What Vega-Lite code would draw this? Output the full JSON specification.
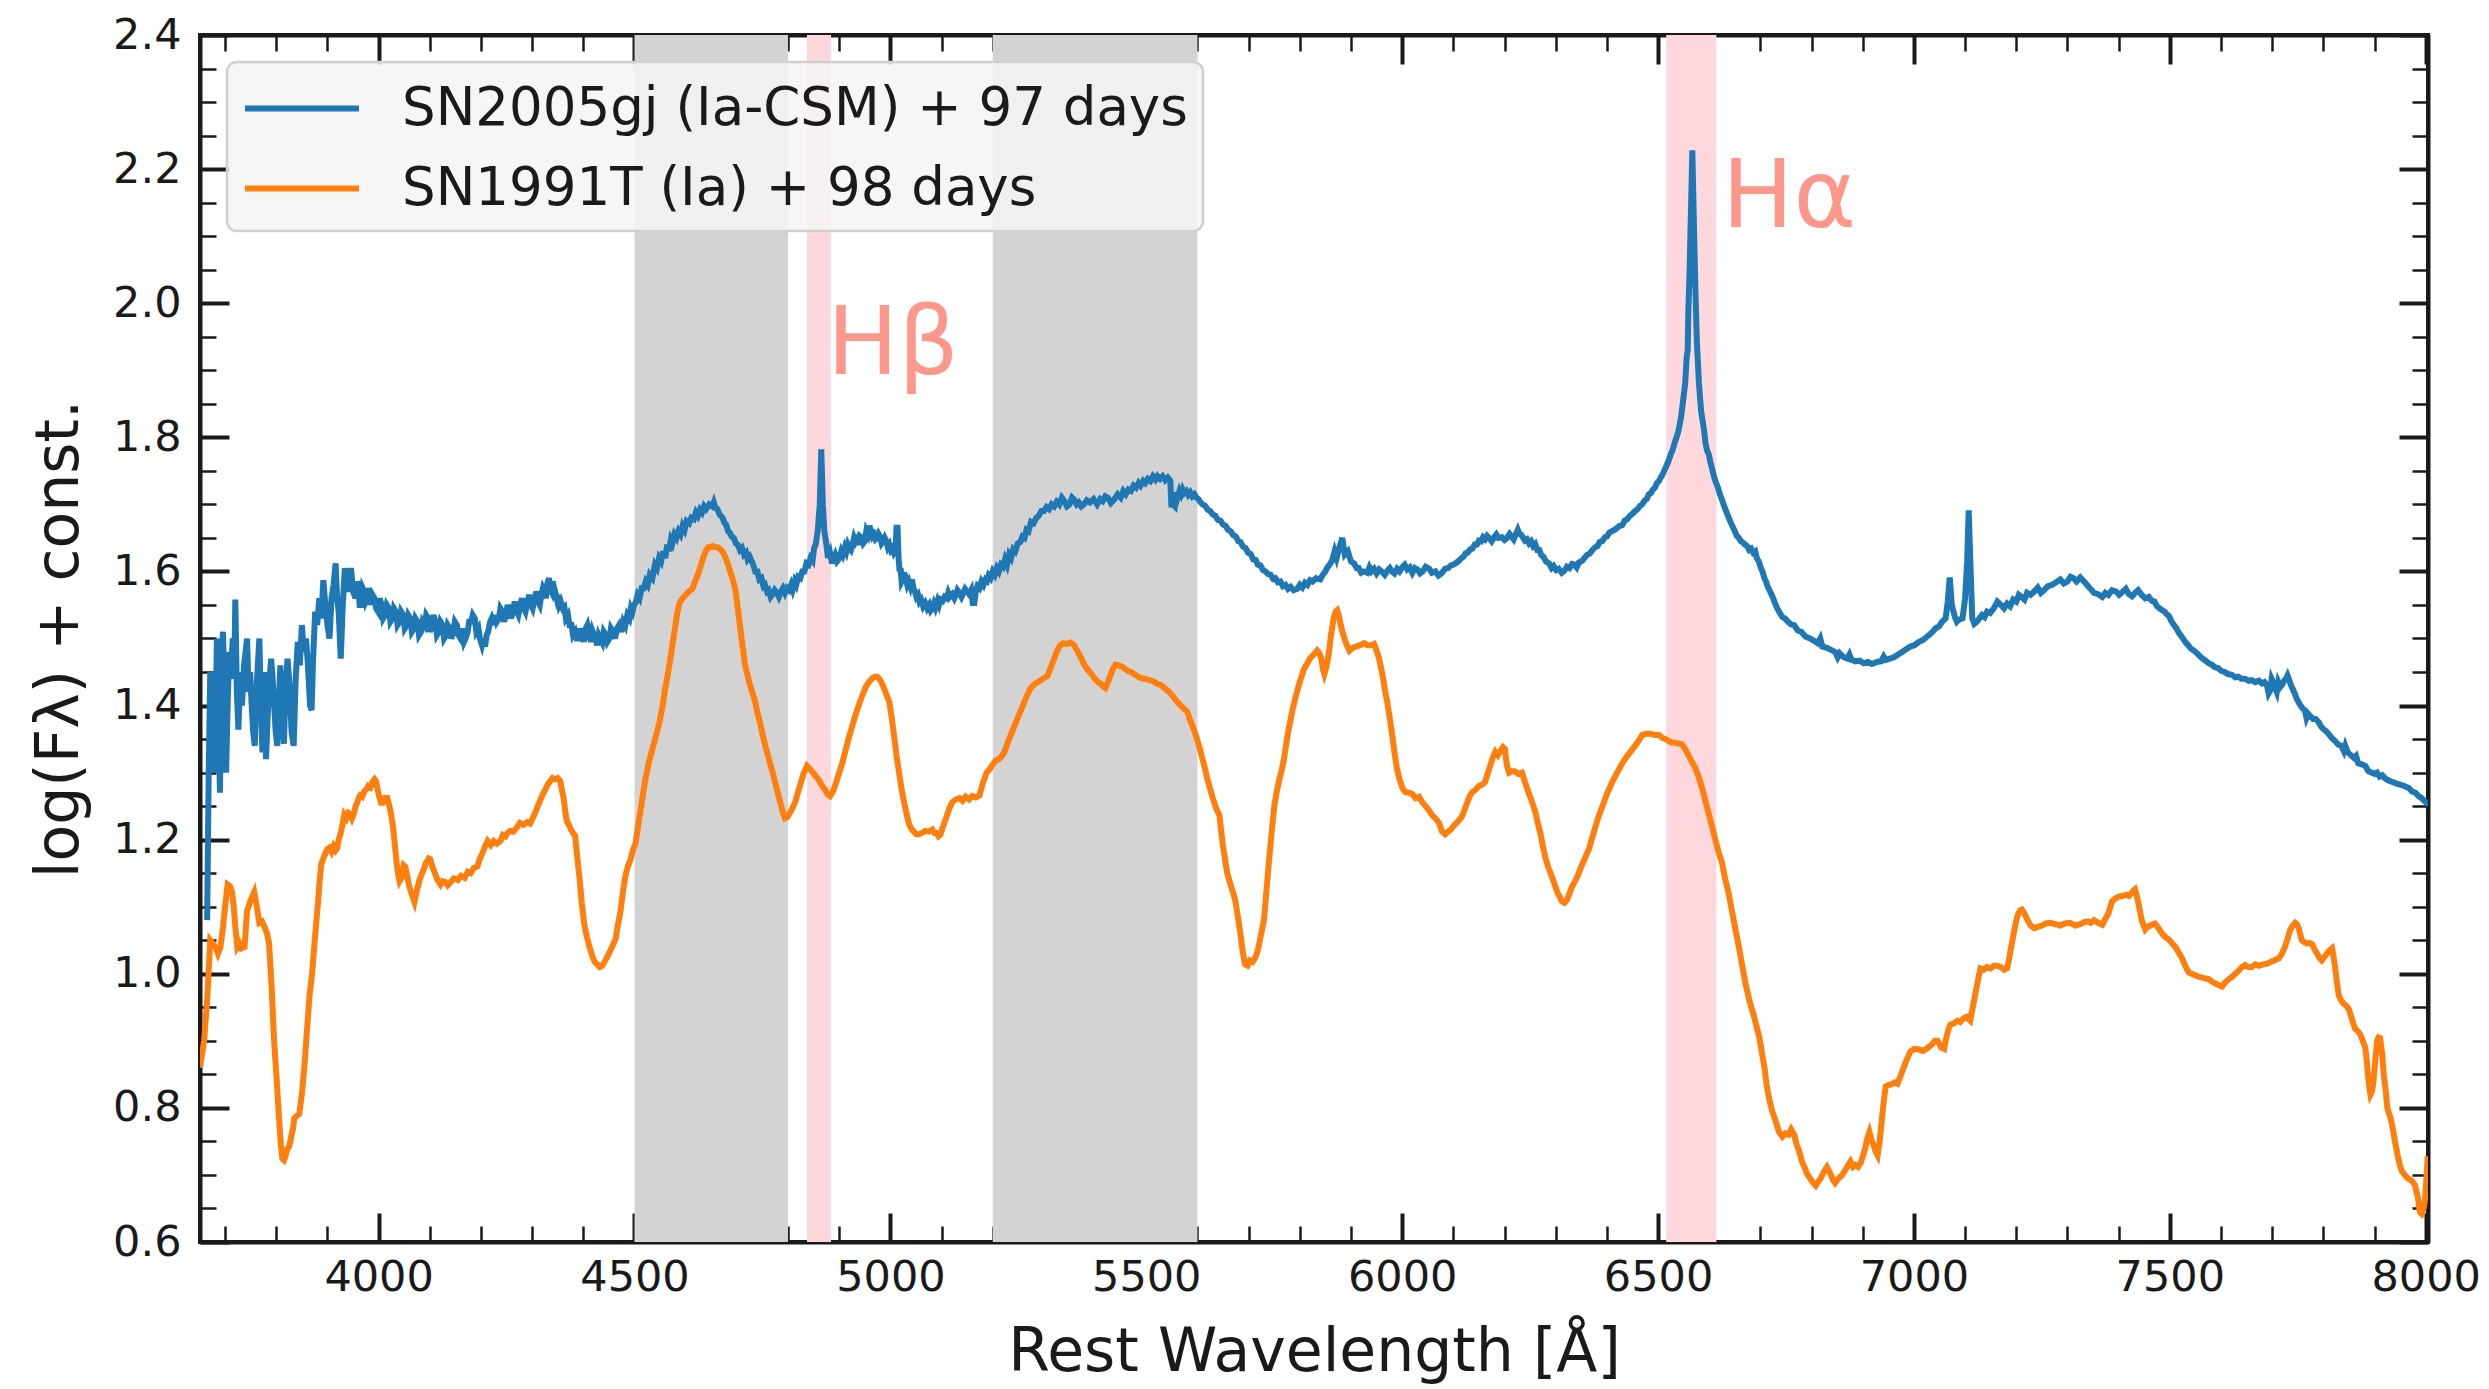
{
  "$schema": "https://vega.github.io/schema/vega-lite/v6.json",
  "width": 2228,
  "height": 1207,
  "autosize": {"type": "none"},
  "padding": {"left": 200, "top": 35, "right": 61, "bottom": 147},
  "background": "white",
  "config": {
    "view": {"stroke": "#1a1a1a", "strokeWidth": 4},
    "font": "DejaVu Sans",
    "axis": {
      "domainColor": "#1a1a1a", "domainWidth": 4, "tickColor": "#1a1a1a", "grid": false,
      "labelFont": "DejaVu Sans", "labelFontSize": 43, "labelColor": "#1a1a1a",
      "titleFont": "DejaVu Sans", "titleFontSize": 60, "titleFontWeight": "normal", "titleColor": "#1a1a1a",
      "labelOverlap": false, "labelFlush": false
    },
    "legend": {
      "orient": "none", "legendX": 27, "legendY": 27, "title": null,
      "symbolType": "M-1,0H3", "symbolSize": 3249, "symbolStrokeWidth": 6,
      "labelFont": "DejaVu Sans", "labelFontSize": 53, "labelColor": "#1a1a1a", "labelOffset": 97, "labelLimit": 2000,
      "padding": 15, "rowPadding": 21, "fillColor": "rgba(245,245,245,0.85)", "strokeColor": "#d0d0d0", "strokeWidth": 2.5, "cornerRadius": 10
    }
  },
  "datasets": {
    "bands": [
      {"kind": "range", "x0": 4500, "x1": 4800},
      {"kind": "range", "x0": 5200, "x1": 5600},
      {"kind": "line", "x0": 4837, "x1": 4884},
      {"kind": "line", "x0": 6516, "x1": 6614}
    ],
    "labels": [
      {"t": "Hα", "w": 6625, "f": 2.114},
      {"t": "Hβ", "w": 4876, "f": 1.895}
    ],
    "sn05gj": [
{"w":3665,"f":1.08},{"w":3668,"f":1.30},{"w":3671,"f":1.45},{"w":3674,"f":1.33},{"w":3677,"f":1.42},{"w":3680,"f":1.30},{"w":3684,"f":1.50},{"w":3687,"f":1.38},{"w":3690,"f":1.27},{"w":3693,"f":1.47},{"w":3696,"f":1.51},{"w":3699,"f":1.40},{"w":3702,"f":1.30},{"w":3705,"f":1.40},{"w":3708,"f":1.48},{"w":3711,"f":1.44},{"w":3715,"f":1.50},{"w":3718,"f":1.45},{"w":3720,"f":1.558},{"w":3723,"f":1.42},{"w":3726,"f":1.364},{"w":3730,"f":1.45},{"w":3733,"f":1.40},{"w":3737,"f":1.46},{"w":3740,"f":1.48},{"w":3743,"f":1.50},{"w":3746,"f":1.42},{"w":3749,"f":1.45},{"w":3752,"f":1.40},{"w":3755,"f":1.36},{"w":3758,"f":1.34},{"w":3761,"f":1.42},{"w":3764,"f":1.46},{"w":3767,"f":1.50},{"w":3770,"f":1.40},{"w":3773,"f":1.33},{"w":3777,"f":1.45},{"w":3780,"f":1.32},{"w":3783,"f":1.38},{"w":3787,"f":1.44},{"w":3790,"f":1.47},{"w":3793,"f":1.44},{"w":3796,"f":1.40},{"w":3799,"f":1.36},{"w":3802,"f":1.34},{"w":3805,"f":1.40},{"w":3808,"f":1.46},{"w":3812,"f":1.38},{"w":3815,"f":1.343},{"w":3818,"f":1.42},{"w":3822,"f":1.47},{"w":3826,"f":1.43},{"w":3830,"f":1.36},{"w":3834,"f":1.34},{"w":3838,"f":1.44},{"w":3842,"f":1.495},{"w":3846,"f":1.46},{"w":3850,"f":1.52},{"w":3854,"f":1.48},{"w":3858,"f":1.50},{"w":3862,"f":1.46},{"w":3866,"f":1.40},{"w":3869,"f":1.393},{"w":3872,"f":1.47},{"w":3876,"f":1.54},{"w":3880,"f":1.52},{"w":3884,"f":1.56},{"w":3888,"f":1.53},{"w":3892,"f":1.587},{"w":3896,"f":1.55},{"w":3900,"f":1.52},{"w":3904,"f":1.50},{"w":3908,"f":1.56},{"w":3912,"f":1.58},{"w":3916,"f":1.612},{"w":3919,"f":1.56},{"w":3922,"f":1.54},{"w":3926,"f":1.47},{"w":3930,"f":1.55},{"w":3934,"f":1.605},{"w":3938,"f":1.58},{"w":3942,"f":1.57},{"w":3946,"f":1.605},{"w":3950,"f":1.57},
{"w":3955,"f":1.56},{"w":3958,"f":1.585},{"w":3960,"f":1.58},{"w":3963,"f":1.55},{"w":3966,"f":1.55},{"w":3969,"f":1.575},{"w":3972,"f":1.57},{"w":3975,"f":1.555},{"w":3978,"f":1.56},{"w":3982,"f":1.575},{"w":3985,"f":1.55},{"w":3988,"f":1.565},{"w":3992,"f":1.56},{"w":3995,"f":1.545},{"w":3999,"f":1.54},{"w":4002,"f":1.56},{"w":4006,"f":1.55},{"w":4009,"f":1.53},{"w":4013,"f":1.535},{"w":4016,"f":1.55},{"w":4020,"f":1.545},{"w":4023,"f":1.525},{"w":4027,"f":1.53},{"w":4030,"f":1.545},{"w":4034,"f":1.54},{"w":4037,"f":1.52},{"w":4041,"f":1.525},{"w":4044,"f":1.54},{"w":4048,"f":1.535},{"w":4051,"f":1.515},{"w":4055,"f":1.52},{"w":4058,"f":1.535},{"w":4062,"f":1.53},{"w":4065,"f":1.51},{"w":4069,"f":1.515},{"w":4072,"f":1.53},{"w":4076,"f":1.525},{"w":4079,"f":1.505},{"w":4083,"f":1.51},{"w":4086,"f":1.525},{"w":4090,"f":1.52},{"w":4093,"f":1.535},{"w":4097,"f":1.53},{"w":4100,"f":1.51},{"w":4104,"f":1.52},{"w":4107,"f":1.535},{"w":4111,"f":1.525},{"w":4114,"f":1.505},{"w":4118,"f":1.51},{"w":4121,"f":1.525},{"w":4125,"f":1.52},{"w":4128,"f":1.50},{"w":4132,"f":1.505},{"w":4135,"f":1.52},{"w":4139,"f":1.515},{"w":4142,"f":1.50},{"w":4146,"f":1.51},{"w":4149,"f":1.525},{"w":4153,"f":1.52},{"w":4156,"f":1.505},{"w":4160,"f":1.50},{"w":4163,"f":1.515},{"w":4167,"f":1.495},{"w":4170,"f":1.50},{"w":4174,"f":1.51},{"w":4177,"f":1.525},{"w":4181,"f":1.525},{"w":4184,"f":1.535},{"w":4188,"f":1.53},{"w":4191,"f":1.51},{"w":4195,"f":1.515},{"w":4198,"f":1.50},{"w":4202,"f":1.49},{"w":4205,"f":1.50},{"w":4208,"f":1.488},{"w":4211,"f":1.505},{"w":4214,"f":1.51},{"w":4218,"f":1.525},{"w":4221,"f":1.53},{"w":4225,"f":1.52},{"w":4228,"f":1.535},{"w":4231,"f":1.525},{"w":4235,"f":1.53},{"w":4238,"f":1.545},{"w":4242,"f":1.54},{"w":4245,"f":1.525},{"w":4249,"f":1.535},{"w":4252,"f":1.55},{"w":4256,"f":1.54},{"w":4259,"f":1.53},{"w":4263,"f":1.545},{"w":4266,"f":1.555},{"w":4270,"f":1.54},{"w":4273,"f":1.535},{"w":4277,"f":1.55},{"w":4280,"f":1.56},{"w":4284,"f":1.545},{"w":4287,"f":1.54},{"w":4291,"f":1.555},{"w":4294,"f":1.565},{"w":4298,"f":1.55},{"w":4301,"f":1.545},{"w":4305,"f":1.56},{"w":4308,"f":1.57},{"w":4312,"f":1.555},{"w":4315,"f":1.55},{"w":4318,"f":1.565},{"w":4321,"f":1.575},{"w":4324,"f":1.57},{"w":4327,"f":1.56},{"w":4330,"f":1.583},{"w":4333,"f":1.59},{"w":4335,"f":1.575},{"w":4338,"f":1.57},{"w":4340,"f":1.585},{"w":4343,"f":1.575},{"w":4345,"f":1.57},{"w":4348,"f":1.56},{"w":4350,"f":1.565},{"w":4353,"f":1.55},{"w":4356,"f":1.555},{"w":4360,"f":1.545},{"w":4363,"f":1.547},{"w":4366,"f":1.53},{"w":4370,"f":1.535},{"w":4373,"f":1.52},{"w":4377,"f":1.52},{"w":4380,"f":1.505},{"w":4384,"f":1.51},{"w":4387,"f":1.50},{"w":4391,"f":1.50},{"w":4394,"f":1.515},{"w":4398,"f":1.505},{"w":4401,"f":1.495},{"w":4405,"f":1.515},{"w":4408,"f":1.52},{"w":4412,"f":1.505},{"w":4415,"f":1.495},{"w":4418,"f":1.511},{"w":4421,"f":1.505},{"w":4424,"f":1.50},{"w":4427,"f":1.49},{"w":4430,"f":1.505},{"w":4433,"f":1.50},{"w":4437,"f":1.494},{"w":4440,"f":1.51},{"w":4444,"f":1.505},{"w":4447,"f":1.495},{"w":4451,"f":1.50},{"w":4454,"f":1.515},{"w":4458,"f":1.51},{"w":4462,"f":1.50},{"w":4466,"f":1.515},{"w":4470,"f":1.52},{"w":4474,"f":1.51},{"w":4478,"f":1.525},{"w":4482,"f":1.519},{"w":4486,"f":1.535},{"w":4490,"f":1.53},{"w":4493,"f":1.545},{"w":4496,"f":1.54},{"w":4499,"f":1.55},
{"w":4502,"f":1.553},{"w":4506,"f":1.565},{"w":4510,"f":1.56},{"w":4514,"f":1.575},{"w":4518,"f":1.575},{"w":4522,"f":1.585},{"w":4526,"f":1.58},{"w":4530,"f":1.595},{"w":4535,"f":1.59},{"w":4540,"f":1.61},{"w":4544,"f":1.605},{"w":4548,"f":1.62},{"w":4552,"f":1.615},{"w":4556,"f":1.63},{"w":4560,"f":1.62},{"w":4564,"f":1.64},{"w":4567,"f":1.63},{"w":4571,"f":1.647},{"w":4574,"f":1.642},{"w":4578,"f":1.655},{"w":4582,"f":1.65},{"w":4586,"f":1.66},{"w":4590,"f":1.655},{"w":4594,"f":1.668},{"w":4598,"f":1.662},{"w":4602,"f":1.675},{"w":4607,"f":1.672},{"w":4611,"f":1.68},{"w":4616,"f":1.678},{"w":4620,"f":1.688},{"w":4624,"f":1.683},{"w":4628,"f":1.692},{"w":4632,"f":1.688},{"w":4636,"f":1.697},{"w":4640,"f":1.693},{"w":4646,"f":1.70},{"w":4652,"f":1.697},{"w":4655,"f":1.703},{"w":4658,"f":1.695},{"w":4662,"f":1.693},{"w":4666,"f":1.685},{"w":4672,"f":1.68},{"w":4676,"f":1.672},{"w":4679,"f":1.67},{"w":4683,"f":1.66},{"w":4686,"f":1.658},{"w":4690,"f":1.652},{"w":4694,"f":1.65},{"w":4698,"f":1.642},{"w":4702,"f":1.64},{"w":4706,"f":1.632},{"w":4710,"f":1.635},{"w":4714,"f":1.625},{"w":4718,"f":1.628},{"w":4721,"f":1.618},{"w":4725,"f":1.622},{"w":4732,"f":1.61},{"w":4736,"f":1.60},{"w":4740,"f":1.60},{"w":4744,"f":1.588},{"w":4748,"f":1.59},{"w":4752,"f":1.578},{"w":4755,"f":1.58},{"w":4759,"f":1.57},{"w":4762,"f":1.572},{"w":4766,"f":1.562},{"w":4770,"f":1.566},{"w":4774,"f":1.572},{"w":4778,"f":1.568},{"w":4782,"f":1.562},{"w":4786,"f":1.57},{"w":4790,"f":1.575},{"w":4794,"f":1.568},{"w":4798,"f":1.575},{"w":4802,"f":1.572},{"w":4806,"f":1.58},{"w":4809,"f":1.573},{"w":4813,"f":1.585},{"w":4816,"f":1.58},{"w":4820,"f":1.592},{"w":4824,"f":1.59},{"w":4828,"f":1.60},{"w":4832,"f":1.60},{"w":4836,"f":1.612},{"w":4840,"f":1.61},{"w":4844,"f":1.62},{"w":4848,"f":1.616},{"w":4851,"f":1.635},{"w":4854,"f":1.64},{"w":4858,"f":1.66},{"w":4862,"f":1.70},{"w":4865,"f":1.782},{"w":4868,"f":1.70},{"w":4871,"f":1.66},{"w":4875,"f":1.64},{"w":4878,"f":1.62},{"w":4882,"f":1.628},{"w":4886,"f":1.612},{"w":4889,"f":1.62},{"w":4892,"f":1.625},{"w":4896,"f":1.615},{"w":4900,"f":1.619},{"w":4904,"f":1.63},{"w":4907,"f":1.625},{"w":4911,"f":1.636},{"w":4914,"f":1.63},{"w":4917,"f":1.64},{"w":4920,"f":1.635},{"w":4923,"f":1.632},{"w":4926,"f":1.64},{"w":4929,"f":1.65},{"w":4932,"f":1.644},{"w":4935,"f":1.648},{"w":4938,"f":1.64},{"w":4941,"f":1.652},{"w":4944,"f":1.65},{"w":4947,"f":1.642},{"w":4950,"f":1.645},{"w":4953,"f":1.66},{"w":4956,"f":1.655},{"w":4959,"f":1.668},{"w":4962,"f":1.661},{"w":4965,"f":1.652},{"w":4968,"f":1.655},{"w":4971,"f":1.648},{"w":4974,"f":1.65},{"w":4977,"f":1.656},{"w":4980,"f":1.652},{"w":4983,"f":1.642},{"w":4986,"f":1.645},{"w":4989,"f":1.65},{"w":4992,"f":1.645},{"w":4995,"f":1.636},{"w":4998,"f":1.64},{"w":5001,"f":1.632},{"w":5004,"f":1.635},{"w":5007,"f":1.628},{"w":5010,"f":1.632},{"w":5012,"f":1.665},{"w":5014,"f":1.665},{"w":5016,"f":1.62},{"w":5018,"f":1.60},{"w":5020,"f":1.605},{"w":5022,"f":1.585},{"w":5024,"f":1.588},{"w":5027,"f":1.598},{"w":5030,"f":1.59},{"w":5033,"f":1.58},{"w":5036,"f":1.585},{"w":5039,"f":1.578},{"w":5042,"f":1.588},{"w":5045,"f":1.575},{"w":5048,"f":1.57},{"w":5051,"f":1.562},{"w":5054,"f":1.565},{"w":5057,"f":1.555},{"w":5060,"f":1.558},{"w":5064,"f":1.548},{"w":5068,"f":1.553},{"w":5072,"f":1.545},{"w":5076,"f":1.55},{"w":5079,"f":1.542},{"w":5082,"f":1.545},{"w":5085,"f":1.552},{"w":5088,"f":1.546},{"w":5092,"f":1.556},{"w":5095,"f":1.55},{"w":5098,"f":1.558},{"w":5102,"f":1.556},{"w":5106,"f":1.562},{"w":5110,"f":1.56},{"w":5113,"f":1.568},{"w":5116,"f":1.562},{"w":5121,"f":1.566},{"w":5125,"f":1.56},{"w":5128,"f":1.565},{"w":5131,"f":1.572},{"w":5135,"f":1.568},{"w":5139,"f":1.562},{"w":5142,"f":1.567},{"w":5146,"f":1.574},{"w":5150,"f":1.57},{"w":5154,"f":1.566},{"w":5158,"f":1.572},{"w":5161,"f":1.553},{"w":5164,"f":1.553},{"w":5167,"f":1.57},{"w":5170,"f":1.578},{"w":5174,"f":1.575},{"w":5178,"f":1.585},{"w":5182,"f":1.58},{"w":5186,"f":1.588},{"w":5189,"f":1.586},{"w":5192,"f":1.594},{"w":5196,"f":1.59},{"w":5200,"f":1.6},{"w":5204,"f":1.595},{"w":5208,"f":1.605},{"w":5212,"f":1.60},{"w":5216,"f":1.61},{"w":5220,"f":1.607},{"w":5224,"f":1.618},{"w":5228,"f":1.61},{"w":5232,"f":1.625},{"w":5236,"f":1.62},{"w":5240,"f":1.633},{"w":5244,"f":1.63},{"w":5249,"f":1.642},{"w":5254,"f":1.644},{"w":5258,"f":1.652},{"w":5262,"f":1.65},{"w":5266,"f":1.662},{"w":5270,"f":1.66},{"w":5275,"f":1.674},{"w":5280,"f":1.672},{"w":5285,"f":1.68},{"w":5290,"f":1.683},{"w":5295,"f":1.69},{"w":5300,"f":1.69},{"w":5305,"f":1.696},{"w":5310,"f":1.693},{"w":5315,"f":1.70},{"w":5320,"f":1.697},{"w":5325,"f":1.704},{"w":5330,"f":1.70},{"w":5335,"f":1.71},{"w":5340,"f":1.705},{"w":5345,"f":1.697},{"w":5350,"f":1.70},{"w":5355,"f":1.71},{"w":5359,"f":1.707},{"w":5364,"f":1.70},{"w":5368,"f":1.703},{"w":5373,"f":1.697},{"w":5378,"f":1.70},{"w":5384,"f":1.706},{"w":5390,"f":1.703},{"w":5397,"f":1.708},{"w":5404,"f":1.70},{"w":5410,"f":1.708},{"w":5415,"f":1.705},{"w":5420,"f":1.712},{"w":5425,"f":1.71},{"w":5431,"f":1.702},{"w":5437,"f":1.707},{"w":5444,"f":1.715},{"w":5450,"f":1.71},{"w":5455,"f":1.72},{"w":5460,"f":1.715},{"w":5465,"f":1.722},{"w":5470,"f":1.72},{"w":5475,"f":1.728},{"w":5480,"f":1.725},{"w":5485,"f":1.732},{"w":5489,"f":1.728},{"w":5494,"f":1.735},{"w":5498,"f":1.732},{"w":5503,"f":1.738},{"w":5508,"f":1.735},{"w":5513,"f":1.742},{"w":5518,"f":1.737},{"w":5522,"f":1.742},{"w":5527,"f":1.738},{"w":5532,"f":1.742},{"w":5537,"f":1.736},{"w":5542,"f":1.74},{"w":5547,"f":1.735},{"w":5549,"f":1.70},{"w":5552,"f":1.70},{"w":5556,"f":1.697},{"w":5559,"f":1.718},{"w":5562,"f":1.712},{"w":5565,"f":1.72},{"w":5568,"f":1.715},{"w":5571,"f":1.722},{"w":5574,"f":1.717},{"w":5578,"f":1.72},{"w":5582,"f":1.714},{"w":5586,"f":1.718},{"w":5590,"f":1.712},{"w":5594,"f":1.715},{"w":5598,"f":1.71},{"w":5602,"f":1.708},{"w":5605,"f":1.704},{"w":5610,"f":1.70},{"w":5615,"f":1.698},{"w":5620,"f":1.692},{"w":5625,"f":1.69},{"w":5630,"f":1.685},{"w":5635,"f":1.683},{"w":5640,"f":1.677},{"w":5645,"f":1.676},{"w":5650,"f":1.67},{"w":5655,"f":1.668},{"w":5660,"f":1.662},{"w":5665,"f":1.66},{"w":5670,"f":1.654},{"w":5675,"f":1.652},{"w":5680,"f":1.645},{"w":5684,"f":1.644},{"w":5689,"f":1.637},{"w":5694,"f":1.635},{"w":5699,"f":1.628},{"w":5704,"f":1.626},{"w":5709,"f":1.618},{"w":5714,"f":1.617},{"w":5718,"f":1.61},{"w":5723,"f":1.609},{"w":5728,"f":1.602},{"w":5733,"f":1.60},{"w":5738,"f":1.596},{"w":5743,"f":1.595},{"w":5748,"f":1.589},{"w":5752,"f":1.59},{"w":5757,"f":1.584},{"w":5762,"f":1.585},{"w":5767,"f":1.578},{"w":5772,"f":1.58},{"w":5777,"f":1.574},{"w":5782,"f":1.577},{"w":5788,"f":1.572},{"w":5795,"f":1.574},{"w":5800,"f":1.58},{"w":5805,"f":1.576},{"w":5810,"f":1.583},{"w":5815,"f":1.58},{"w":5820,"f":1.587},{"w":5825,"f":1.585},{"w":5832,"f":1.59},{"w":5840,"f":1.588},{"w":5845,"f":1.595},{"w":5850,"f":1.60},{"w":5854,"f":1.606},{"w":5858,"f":1.61},{"w":5863,"f":1.616},{"w":5868,"f":1.63},{"w":5872,"f":1.62},{"w":5877,"f":1.635},{"w":5883,"f":1.65},{"w":5888,"f":1.625},{"w":5894,"f":1.63},{"w":5900,"f":1.615},{"w":5906,"f":1.612},{"w":5911,"f":1.605},{"w":5915,"f":1.605},{"w":5920,"f":1.598},{"w":5925,"f":1.60},{"w":5932,"f":1.598},{"w":5936,"f":1.606},{"w":5940,"f":1.60},{"w":5945,"f":1.604},{"w":5950,"f":1.597},{"w":5955,"f":1.603},{"w":5960,"f":1.60},{"w":5966,"f":1.595},{"w":5971,"f":1.601},{"w":5976,"f":1.605},{"w":5980,"f":1.60},{"w":5985,"f":1.597},{"w":5990,"f":1.604},{"w":5995,"f":1.60},{"w":6000,"f":1.606},{"w":6005,"f":1.61},{"w":6010,"f":1.603},{"w":6015,"f":1.606},{"w":6020,"f":1.598},{"w":6025,"f":1.605},{"w":6030,"f":1.603},{"w":6035,"f":1.597},{"w":6040,"f":1.60},{"w":6046,"f":1.607},{"w":6053,"f":1.604},{"w":6058,"f":1.598},{"w":6065,"f":1.60},{"w":6071,"f":1.594},{"w":6078,"f":1.598},{"w":6084,"f":1.604},{"w":6090,"f":1.605},{"w":6095,"f":1.609},{"w":6100,"f":1.61},{"w":6106,"f":1.613},{"w":6111,"f":1.616},{"w":6116,"f":1.62},{"w":6120,"f":1.622},{"w":6124,"f":1.627},{"w":6128,"f":1.628},{"w":6133,"f":1.633},{"w":6137,"f":1.634},{"w":6142,"f":1.64},{"w":6146,"f":1.64},{"w":6150,"f":1.646},{"w":6154,"f":1.645},{"w":6158,"f":1.651},{"w":6162,"f":1.648},{"w":6166,"f":1.653},{"w":6170,"f":1.65},{"w":6175,"f":1.645},{"w":6180,"f":1.651},{"w":6184,"f":1.655},{"w":6188,"f":1.65},{"w":6195,"f":1.651},{"w":6200,"f":1.647},{"w":6205,"f":1.65},{"w":6210,"f":1.656},{"w":6214,"f":1.652},{"w":6218,"f":1.648},{"w":6222,"f":1.655},{"w":6226,"f":1.662},{"w":6228,"f":1.658},{"w":6232,"f":1.655},{"w":6235,"f":1.652},{"w":6240,"f":1.646},{"w":6244,"f":1.648},{"w":6248,"f":1.642},{"w":6252,"f":1.645},{"w":6256,"f":1.638},{"w":6260,"f":1.641},{"w":6264,"f":1.632},{"w":6268,"f":1.632},{"w":6272,"f":1.624},{"w":6276,"f":1.622},{"w":6281,"f":1.615},{"w":6287,"f":1.612},{"w":6292,"f":1.605},{"w":6296,"f":1.608},{"w":6301,"f":1.602},{"w":6306,"f":1.604},{"w":6312,"f":1.598},{"w":6317,"f":1.601},{"w":6322,"f":1.607},{"w":6327,"f":1.605},{"w":6332,"f":1.611},{"w":6337,"f":1.61},{"w":6341,"f":1.606},{"w":6345,"f":1.613},{"w":6352,"f":1.616},{"w":6357,"f":1.621},{"w":6362,"f":1.625},{"w":6367,"f":1.627},{"w":6372,"f":1.632},{"w":6377,"f":1.636},{"w":6382,"f":1.638},{"w":6386,"f":1.644},{"w":6391,"f":1.645},{"w":6396,"f":1.651},{"w":6400,"f":1.652},{"w":6405,"f":1.658},{"w":6410,"f":1.66},{"w":6415,"f":1.662},{"w":6420,"f":1.665},{"w":6425,"f":1.668},{"w":6430,"f":1.669},{"w":6435,"f":1.676},{"w":6440,"f":1.678},{"w":6445,"f":1.683},{"w":6450,"f":1.686},{"w":6455,"f":1.69},{"w":6460,"f":1.693},{"w":6465,"f":1.698},{"w":6469,"f":1.70},{"w":6474,"f":1.706},{"w":6478,"f":1.708},{"w":6482,"f":1.715},{"w":6486,"f":1.717},{"w":6490,"f":1.722},{"w":6494,"f":1.725},{"w":6498,"f":1.732},{"w":6502,"f":1.735},{"w":6505,"f":1.74},{"w":6508,"f":1.743},{"w":6512,"f":1.75},{"w":6515,"f":1.755},{"w":6519,"f":1.762},{"w":6522,"f":1.768},{"w":6525,"f":1.775},{"w":6528,"f":1.78},{"w":6533,"f":1.793},{"w":6537,"f":1.802},{"w":6540,"f":1.81},{"w":6545,"f":1.83},{"w":6549,"f":1.855},{"w":6553,"f":1.88},{"w":6556,"f":1.92},{"w":6558,"f":1.93},{"w":6559,"f":1.98},{"w":6562,"f":2.06},{"w":6565,"f":2.16},{"w":6567,"f":2.228},{"w":6570,"f":2.12},{"w":6573,"f":2.02},{"w":6576,"f":1.94},{"w":6580,"f":1.88},{"w":6584,"f":1.84},{"w":6590,"f":1.81},{"w":6593,"f":1.79},{"w":6596,"f":1.78},{"w":6599,"f":1.775},{"w":6602,"f":1.764},{"w":6606,"f":1.752},{"w":6610,"f":1.74},{"w":6613,"f":1.733},{"w":6617,"f":1.725},{"w":6621,"f":1.715},{"w":6625,"f":1.707},{"w":6629,"f":1.698},{"w":6633,"f":1.69},{"w":6637,"f":1.682},{"w":6641,"f":1.675},{"w":6645,"f":1.668},{"w":6650,"f":1.66},{"w":6654,"f":1.653},{"w":6658,"f":1.65},{"w":6662,"f":1.645},{"w":6666,"f":1.643},{"w":6670,"f":1.64},{"w":6674,"f":1.638},{"w":6678,"f":1.632},{"w":6682,"f":1.634},{"w":6686,"f":1.628},{"w":6690,"f":1.63},{"w":6693,"f":1.62},{"w":6697,"f":1.615},{"w":6700,"f":1.607},{"w":6704,"f":1.60},{"w":6708,"f":1.59},{"w":6711,"f":1.585},{"w":6714,"f":1.578},{"w":6717,"f":1.573},{"w":6721,"f":1.567},{"w":6725,"f":1.56},{"w":6729,"f":1.552},{"w":6733,"f":1.545},{"w":6738,"f":1.538},{"w":6743,"f":1.532},{"w":6748,"f":1.53},{"w":6754,"f":1.525},{"w":6760,"f":1.521},{"w":6766,"f":1.52},{"w":6773,"f":1.512},{"w":6780,"f":1.51},{"w":6788,"f":1.503},{"w":6797,"f":1.50},{"w":6804,"f":1.497},{"w":6812,"f":1.493},{"w":6817,"f":1.50},{"w":6821,"f":1.488},{"w":6830,"f":1.486},{"w":6838,"f":1.483},{"w":6846,"f":1.48},{"w":6851,"f":1.472},{"w":6855,"f":1.478},{"w":6863,"f":1.472},{"w":6870,"f":1.47},{"w":6874,"f":1.476},{"w":6878,"f":1.468},{"w":6886,"f":1.466},{"w":6894,"f":1.467},{"w":6902,"f":1.463},{"w":6910,"f":1.465},{"w":6918,"f":1.462},{"w":6928,"f":1.465},{"w":6936,"f":1.466},{"w":6941,"f":1.473},{"w":6945,"f":1.468},{"w":6953,"f":1.47},{"w":6961,"f":1.472},{"w":6969,"f":1.476},{"w":6977,"f":1.48},{"w":6985,"f":1.484},{"w":6993,"f":1.488},{"w":7001,"f":1.49},{"w":7010,"f":1.495},{"w":7018,"f":1.498},{"w":7026,"f":1.503},{"w":7034,"f":1.508},{"w":7042,"f":1.515},{"w":7049,"f":1.518},{"w":7055,"f":1.525},{"w":7062,"f":1.53},{"w":7066,"f":1.555},{"w":7070,"f":1.591},{"w":7074,"f":1.55},{"w":7080,"f":1.532},{"w":7084,"f":1.525},{"w":7088,"f":1.528},{"w":7095,"f":1.53},{"w":7100,"f":1.56},{"w":7104,"f":1.615},{"w":7107,"f":1.691},{"w":7110,"f":1.62},{"w":7114,"f":1.53},{"w":7118,"f":1.522},{"w":7123,"f":1.525},{"w":7128,"f":1.53},{"w":7133,"f":1.535},{"w":7138,"f":1.532},{"w":7143,"f":1.54},{"w":7149,"f":1.538},{"w":7156,"f":1.545},{"w":7163,"f":1.555},{"w":7170,"f":1.55},{"w":7176,"f":1.545},{"w":7182,"f":1.552},{"w":7188,"f":1.548},{"w":7194,"f":1.558},{"w":7200,"f":1.555},{"w":7205,"f":1.565},{"w":7210,"f":1.562},{"w":7216,"f":1.558},{"w":7221,"f":1.568},{"w":7228,"f":1.565},{"w":7235,"f":1.57},{"w":7242,"f":1.576},{"w":7248,"f":1.568},{"w":7254,"f":1.572},{"w":7262,"f":1.578},{"w":7270,"f":1.58},{"w":7278,"f":1.584},{"w":7286,"f":1.588},{"w":7293,"f":1.582},{"w":7300,"f":1.585},{"w":7306,"f":1.592},{"w":7312,"f":1.59},{"w":7318,"f":1.585},{"w":7325,"f":1.591},{"w":7331,"f":1.586},{"w":7338,"f":1.58},{"w":7345,"f":1.574},{"w":7352,"f":1.568},{"w":7360,"f":1.566},{"w":7368,"f":1.562},{"w":7374,"f":1.568},{"w":7380,"f":1.565},{"w":7387,"f":1.572},{"w":7395,"f":1.57},{"w":7401,"f":1.565},{"w":7407,"f":1.569},{"w":7414,"f":1.574},{"w":7420,"f":1.566},{"w":7426,"f":1.563},{"w":7432,"f":1.568},{"w":7438,"f":1.572},{"w":7445,"f":1.565},{"w":7452,"f":1.56},{"w":7459,"f":1.562},{"w":7465,"f":1.556},{"w":7470,"f":1.555},{"w":7475,"f":1.548},{"w":7480,"f":1.545},{"w":7485,"f":1.542},{"w":7490,"f":1.54},{"w":7494,"f":1.536},{"w":7498,"f":1.534},{"w":7503,"f":1.526},{"w":7508,"f":1.52},{"w":7513,"f":1.515},{"w":7518,"f":1.508},{"w":7524,"f":1.502},{"w":7530,"f":1.495},{"w":7536,"f":1.49},{"w":7541,"f":1.485},{"w":7547,"f":1.482},{"w":7553,"f":1.478},{"w":7558,"f":1.474},{"w":7564,"f":1.47},{"w":7570,"f":1.467},{"w":7576,"f":1.463},{"w":7582,"f":1.461},{"w":7588,"f":1.457},{"w":7594,"f":1.456},{"w":7600,"f":1.452},{"w":7607,"f":1.45},{"w":7614,"f":1.447},{"w":7621,"f":1.446},{"w":7628,"f":1.442},{"w":7634,"f":1.443},{"w":7640,"f":1.44},{"w":7647,"f":1.44},{"w":7654,"f":1.437},{"w":7660,"f":1.438},{"w":7667,"f":1.435},{"w":7674,"f":1.437},{"w":7680,"f":1.433},{"w":7685,"f":1.435},{"w":7690,"f":1.43},{"w":7693,"f":1.418},{"w":7696,"f":1.422},{"w":7699,"f":1.44},{"w":7702,"f":1.435},{"w":7705,"f":1.428},{"w":7709,"f":1.42},{"w":7712,"f":1.435},{"w":7716,"f":1.428},{"w":7720,"f":1.432},{"w":7724,"f":1.438},{"w":7727,"f":1.44},{"w":7730,"f":1.445},{"w":7733,"f":1.439},{"w":7736,"f":1.432},{"w":7740,"f":1.425},{"w":7744,"f":1.418},{"w":7748,"f":1.41},{"w":7753,"f":1.403},{"w":7759,"f":1.396},{"w":7764,"f":1.393},{"w":7767,"f":1.382},{"w":7770,"f":1.388},{"w":7775,"f":1.384},{"w":7780,"f":1.38},{"w":7785,"f":1.38},{"w":7791,"f":1.375},{"w":7796,"f":1.368},{"w":7800,"f":1.365},{"w":7805,"f":1.362},{"w":7810,"f":1.358},{"w":7816,"f":1.352},{"w":7823,"f":1.347},{"w":7829,"f":1.342},{"w":7835,"f":1.34},{"w":7840,"f":1.332},{"w":7843,"f":1.34},{"w":7848,"f":1.33},{"w":7854,"f":1.326},{"w":7860,"f":1.322},{"w":7864,"f":1.325},{"w":7868,"f":1.314},{"w":7876,"f":1.312},{"w":7882,"f":1.31},{"w":7888,"f":1.302},{"w":7894,"f":1.30},{"w":7900,"f":1.298},{"w":7905,"f":1.30},{"w":7910,"f":1.294},{"w":7915,"f":1.296},{"w":7921,"f":1.291},{"w":7928,"f":1.288},{"w":7935,"f":1.286},{"w":7942,"f":1.284},{"w":7950,"f":1.282},{"w":7958,"f":1.28},{"w":7967,"f":1.277},{"w":7973,"f":1.272},{"w":7980,"f":1.27},{"w":7986,"f":1.265},{"w":7992,"f":1.262},{"w":7997,"f":1.258},{"w":8002,"f":1.255},{"w":8006,"f":1.253}
    ],
    "sn91t": [
{"w":3651,"f":0.86},{"w":3655,"f":0.88},{"w":3659,"f":0.90},{"w":3665,"f":0.96},{"w":3671,"f":1.05},{"w":3676,"f":1.045},{"w":3681,"f":1.04},{"w":3686,"f":1.03},{"w":3691,"f":1.04},{"w":3696,"f":1.07},{"w":3700,"f":1.10},{"w":3705,"f":1.133},{"w":3710,"f":1.13},{"w":3714,"f":1.12},{"w":3717,"f":1.10},{"w":3720,"f":1.07},{"w":3724,"f":1.04},{"w":3728,"f":1.045},{"w":3732,"f":1.038},{"w":3738,"f":1.04},{"w":3743,"f":1.094},{"w":3750,"f":1.11},{"w":3757,"f":1.122},{"w":3762,"f":1.10},{"w":3767,"f":1.076},{"w":3772,"f":1.078},{"w":3777,"f":1.07},{"w":3782,"f":1.06},{"w":3786,"f":1.045},{"w":3791,"f":0.98},{"w":3796,"f":0.897},{"w":3801,"f":0.84},{"w":3805,"f":0.79},{"w":3809,"f":0.745},{"w":3812,"f":0.724},{"w":3815,"f":0.722},{"w":3818,"f":0.728},{"w":3822,"f":0.74},{"w":3825,"f":0.742},{"w":3828,"f":0.752},{"w":3830,"f":0.76},{"w":3833,"f":0.77},{"w":3835,"f":0.784},{"w":3840,"f":0.788},{"w":3845,"f":0.791},{"w":3850,"f":0.82},{"w":3855,"f":0.862},{"w":3860,"f":0.915},{"w":3865,"f":0.967},{"w":3870,"f":1.0},{"w":3874,"f":1.038},{"w":3878,"f":1.075},{"w":3882,"f":1.11},{"w":3885,"f":1.14},{"w":3888,"f":1.164},{"w":3892,"f":1.172},{"w":3896,"f":1.18},{"w":3900,"f":1.186},{"w":3904,"f":1.188},{"w":3908,"f":1.182},{"w":3912,"f":1.19},{"w":3916,"f":1.184},{"w":3919,"f":1.187},{"w":3922,"f":1.2},{"w":3926,"f":1.21},{"w":3930,"f":1.225},{"w":3933,"f":1.237},{"w":3937,"f":1.232},{"w":3941,"f":1.24},{"w":3945,"f":1.238},{"w":3948,"f":1.232},{"w":3952,"f":1.24},{"w":3955,"f":1.25},{"w":3958,"f":1.255},{"w":3961,"f":1.262},{"w":3964,"f":1.266},{"w":3968,"f":1.264},{"w":3972,"f":1.272},{"w":3976,"f":1.275},{"w":3980,"f":1.28},{"w":3984,"f":1.278},{"w":3988,"f":1.286},{"w":3992,"f":1.29},{"w":3995,"f":1.287},{"w":3998,"f":1.275},{"w":4001,"f":1.265},{"w":4005,"f":1.255},{"w":4008,"f":1.255},{"w":4012,"f":1.262},{"w":4017,"f":1.262},{"w":4021,"f":1.25},{"w":4024,"f":1.24},{"w":4028,"f":1.22},{"w":4031,"f":1.198},{"w":4034,"f":1.175},{"w":4036,"f":1.16},{"w":4039,"f":1.145},{"w":4041,"f":1.138},{"w":4044,"f":1.142},{"w":4046,"f":1.15},{"w":4049,"f":1.162},{"w":4052,"f":1.16},{"w":4056,"f":1.145},{"w":4060,"f":1.13},{"w":4065,"f":1.118},{"w":4070,"f":1.107},{"w":4075,"f":1.125},{"w":4080,"f":1.14},{"w":4085,"f":1.15},{"w":4089,"f":1.157},{"w":4092,"f":1.165},{"w":4095,"f":1.168},{"w":4098,"f":1.172},{"w":4101,"f":1.171},{"w":4105,"f":1.16},{"w":4110,"f":1.15},{"w":4115,"f":1.14},{"w":4121,"f":1.133},{"w":4125,"f":1.138},{"w":4130,"f":1.137},{"w":4135,"f":1.132},{"w":4140,"f":1.136},{"w":4147,"f":1.142},{"w":4155,"f":1.14},{"w":4161,"f":1.146},{"w":4168,"f":1.143},{"w":4174,"f":1.152},{"w":4180,"f":1.15},{"w":4186,"f":1.158},{"w":4193,"f":1.16},{"w":4198,"f":1.172},{"w":4203,"f":1.18},{"w":4208,"f":1.19},{"w":4213,"f":1.198},{"w":4219,"f":1.192},{"w":4225,"f":1.198},{"w":4231,"f":1.194},{"w":4238,"f":1.198},{"w":4243,"f":1.207},{"w":4248,"f":1.205},{"w":4252,"f":1.21},{"w":4257,"f":1.213},{"w":4263,"f":1.212},{"w":4270,"f":1.218},{"w":4276,"f":1.225},{"w":4283,"f":1.222},{"w":4290,"f":1.226},{"w":4296,"f":1.224},{"w":4301,"f":1.232},{"w":4306,"f":1.24},{"w":4311,"f":1.25},{"w":4316,"f":1.259},{"w":4321,"f":1.268},{"w":4326,"f":1.275},{"w":4330,"f":1.282},{"w":4335,"f":1.287},{"w":4340,"f":1.292},{"w":4345,"f":1.29},{"w":4350,"f":1.292},{"w":4355,"f":1.287},{"w":4358,"f":1.275},{"w":4362,"f":1.26},{"w":4365,"f":1.24},{"w":4368,"f":1.227},{"w":4372,"f":1.222},{"w":4376,"f":1.215},{"w":4380,"f":1.21},{"w":4384,"f":1.206},{"w":4388,"f":1.175},{"w":4393,"f":1.14},{"w":4397,"f":1.105},{"w":4402,"f":1.073},{"w":4407,"f":1.055},{"w":4412,"f":1.04},{"w":4418,"f":1.025},{"w":4422,"f":1.018},{"w":4427,"f":1.014},{"w":4432,"f":1.01},{"w":4437,"f":1.012},{"w":4443,"f":1.02},{"w":4450,"f":1.03},{"w":4456,"f":1.04},{"w":4463,"f":1.052},{"w":4467,"f":1.07},{"w":4472,"f":1.09},{"w":4477,"f":1.12},{"w":4482,"f":1.145},{"w":4487,"f":1.16},{"w":4492,"f":1.17},{"w":4497,"f":1.185},{"w":4502,"f":1.194},{"w":4507,"f":1.22},{"w":4512,"f":1.245},{"w":4517,"f":1.27},{"w":4522,"f":1.293},{"w":4528,"f":1.315},{"w":4535,"f":1.335},{"w":4542,"f":1.355},{"w":4549,"f":1.376},{"w":4555,"f":1.4},{"w":4560,"f":1.425},{"w":4566,"f":1.45},{"w":4571,"f":1.475},{"w":4576,"f":1.5},{"w":4580,"f":1.52},{"w":4584,"f":1.54},{"w":4588,"f":1.553},{"w":4594,"f":1.56},{"w":4600,"f":1.565},{"w":4606,"f":1.57},{"w":4613,"f":1.574},{"w":4620,"f":1.588},{"w":4626,"f":1.60},{"w":4632,"f":1.615},{"w":4639,"f":1.63},{"w":4644,"f":1.636},{"w":4648,"f":1.636},{"w":4653,"f":1.638},{"w":4658,"f":1.636},{"w":4663,"f":1.636},{"w":4668,"f":1.633},{"w":4673,"f":1.628},{"w":4677,"f":1.622},{"w":4682,"f":1.612},{"w":4687,"f":1.60},{"w":4692,"f":1.588},{"w":4697,"f":1.573},{"w":4701,"f":1.55},{"w":4706,"f":1.52},{"w":4711,"f":1.49},{"w":4716,"f":1.461},{"w":4721,"f":1.445},{"w":4726,"f":1.43},{"w":4731,"f":1.418},{"w":4736,"f":1.405},{"w":4740,"f":1.39},{"w":4745,"f":1.375},{"w":4750,"f":1.358},{"w":4755,"f":1.342},{"w":4760,"f":1.328},{"w":4765,"f":1.313},{"w":4770,"f":1.3},{"w":4775,"f":1.285},{"w":4780,"f":1.27},{"w":4785,"f":1.255},{"w":4790,"f":1.24},{"w":4794,"f":1.232},{"w":4799,"f":1.234},{"w":4804,"f":1.24},{"w":4809,"f":1.248},{"w":4814,"f":1.256},{"w":4820,"f":1.272},{"w":4825,"f":1.285},{"w":4831,"f":1.3},{"w":4837,"f":1.31},{"w":4843,"f":1.305},{"w":4849,"f":1.30},{"w":4855,"f":1.294},{"w":4861,"f":1.288},{"w":4867,"f":1.28},{"w":4872,"f":1.275},{"w":4877,"f":1.268},{"w":4882,"f":1.265},{"w":4888,"f":1.272},{"w":4894,"f":1.285},{"w":4900,"f":1.3},{"w":4906,"f":1.314},{"w":4912,"f":1.332},{"w":4918,"f":1.35},{"w":4925,"f":1.368},{"w":4931,"f":1.384},{"w":4938,"f":1.4},{"w":4945,"f":1.415},{"w":4952,"f":1.428},{"w":4959,"f":1.436},{"w":4965,"f":1.441},{"w":4970,"f":1.443},{"w":4974,"f":1.443},{"w":4978,"f":1.44},{"w":4983,"f":1.434},{"w":4988,"f":1.425},{"w":4993,"f":1.415},{"w":4998,"f":1.405},{"w":5003,"f":1.38},{"w":5008,"f":1.35},{"w":5012,"f":1.325},{"w":5017,"f":1.30},{"w":5022,"f":1.275},{"w":5027,"f":1.255},{"w":5032,"f":1.237},{"w":5037,"f":1.222},{"w":5042,"f":1.215},{"w":5046,"f":1.212},{"w":5051,"f":1.208},{"w":5056,"f":1.208},{"w":5062,"f":1.21},{"w":5068,"f":1.213},{"w":5075,"f":1.212},{"w":5082,"f":1.215},{"w":5086,"f":1.21},{"w":5090,"f":1.21},{"w":5094,"f":1.205},{"w":5098,"f":1.208},{"w":5104,"f":1.222},{"w":5110,"f":1.235},{"w":5116,"f":1.248},{"w":5121,"f":1.256},{"w":5128,"f":1.26},{"w":5135,"f":1.262},{"w":5141,"f":1.258},{"w":5147,"f":1.264},{"w":5154,"f":1.26},{"w":5160,"f":1.265},{"w":5167,"f":1.263},{"w":5174,"f":1.266},{"w":5181,"f":1.285},{"w":5188,"f":1.30},{"w":5194,"f":1.305},{"w":5200,"f":1.312},{"w":5206,"f":1.318},{"w":5212,"f":1.32},{"w":5218,"f":1.325},{"w":5223,"f":1.331},{"w":5231,"f":1.348},{"w":5240,"f":1.365},{"w":5247,"f":1.378},{"w":5254,"f":1.391},{"w":5259,"f":1.4},{"w":5264,"f":1.41},{"w":5269,"f":1.418},{"w":5274,"f":1.426},{"w":5282,"f":1.432},{"w":5290,"f":1.436},{"w":5298,"f":1.44},{"w":5307,"f":1.444},{"w":5314,"f":1.458},{"w":5320,"f":1.47},{"w":5326,"f":1.482},{"w":5332,"f":1.49},{"w":5338,"f":1.493},{"w":5345,"f":1.492},{"w":5352,"f":1.494},{"w":5359,"f":1.49},{"w":5365,"f":1.482},{"w":5372,"f":1.472},{"w":5378,"f":1.462},{"w":5385,"f":1.454},{"w":5392,"f":1.448},{"w":5400,"f":1.44},{"w":5406,"f":1.435},{"w":5412,"f":1.432},{"w":5416,"f":1.428},{"w":5420,"f":1.426},{"w":5425,"f":1.435},{"w":5430,"f":1.445},{"w":5435,"f":1.455},{"w":5440,"f":1.461},{"w":5446,"f":1.46},{"w":5452,"f":1.458},{"w":5458,"f":1.455},{"w":5463,"f":1.452},{"w":5470,"f":1.45},{"w":5476,"f":1.447},{"w":5482,"f":1.444},{"w":5489,"f":1.441},{"w":5497,"f":1.44},{"w":5505,"f":1.438},{"w":5512,"f":1.437},{"w":5518,"f":1.434},{"w":5523,"f":1.432},{"w":5528,"f":1.431},{"w":5536,"f":1.426},{"w":5545,"f":1.42},{"w":5553,"f":1.413},{"w":5561,"f":1.405},{"w":5570,"f":1.398},{"w":5580,"f":1.391},{"w":5585,"f":1.38},{"w":5590,"f":1.37},{"w":5595,"f":1.36},{"w":5600,"f":1.348},{"w":5605,"f":1.335},{"w":5610,"f":1.32},{"w":5615,"f":1.305},{"w":5619,"f":1.292},{"w":5625,"f":1.275},{"w":5630,"f":1.262},{"w":5636,"f":1.248},{"w":5643,"f":1.236},{"w":5646,"f":1.215},{"w":5650,"f":1.19},{"w":5654,"f":1.17},{"w":5658,"f":1.151},{"w":5662,"f":1.14},{"w":5666,"f":1.13},{"w":5670,"f":1.12},{"w":5674,"f":1.109},{"w":5679,"f":1.085},{"w":5684,"f":1.06},{"w":5688,"f":1.035},{"w":5693,"f":1.014},{"w":5698,"f":1.012},{"w":5703,"f":1.02},{"w":5708,"f":1.018},{"w":5713,"f":1.024},{"w":5718,"f":1.035},{"w":5722,"f":1.05},{"w":5726,"f":1.065},{"w":5730,"f":1.08},{"w":5735,"f":1.125},{"w":5740,"f":1.17},{"w":5745,"f":1.21},{"w":5750,"f":1.249},{"w":5755,"f":1.272},{"w":5760,"f":1.29},{"w":5765,"f":1.305},{"w":5769,"f":1.32},{"w":5773,"f":1.34},{"w":5777,"f":1.36},{"w":5781,"f":1.375},{"w":5785,"f":1.391},{"w":5791,"f":1.41},{"w":5796,"f":1.425},{"w":5802,"f":1.44},{"w":5808,"f":1.454},{"w":5814,"f":1.462},{"w":5820,"f":1.47},{"w":5827,"f":1.476},{"w":5834,"f":1.482},{"w":5838,"f":1.478},{"w":5842,"f":1.47},{"w":5845,"f":1.455},{"w":5848,"f":1.447},{"w":5851,"f":1.455},{"w":5855,"f":1.47},{"w":5858,"f":1.485},{"w":5860,"f":1.50},{"w":5863,"f":1.515},{"w":5866,"f":1.53},{"w":5870,"f":1.54},{"w":5873,"f":1.542},{"w":5876,"f":1.535},{"w":5880,"f":1.52},{"w":5884,"f":1.508},{"w":5888,"f":1.498},{"w":5892,"f":1.49},{"w":5897,"f":1.482},{"w":5903,"f":1.486},{"w":5910,"f":1.488},{"w":5918,"f":1.49},{"w":5926,"f":1.493},{"w":5932,"f":1.49},{"w":5938,"f":1.49},{"w":5945,"f":1.492},{"w":5950,"f":1.482},{"w":5955,"f":1.47},{"w":5959,"f":1.455},{"w":5963,"f":1.44},{"w":5967,"f":1.42},{"w":5971,"f":1.405},{"w":5978,"f":1.37},{"w":5985,"f":1.33},{"w":5990,"f":1.305},{"w":5995,"f":1.29},{"w":6000,"f":1.278},{"w":6006,"f":1.271},{"w":6013,"f":1.27},{"w":6020,"f":1.268},{"w":6026,"f":1.262},{"w":6033,"f":1.264},{"w":6040,"f":1.255},{"w":6046,"f":1.25},{"w":6052,"f":1.244},{"w":6059,"f":1.236},{"w":6065,"f":1.232},{"w":6072,"f":1.225},{"w":6078,"f":1.212},{"w":6084,"f":1.208},{"w":6090,"f":1.212},{"w":6095,"f":1.215},{"w":6100,"f":1.22},{"w":6106,"f":1.225},{"w":6112,"f":1.23},{"w":6117,"f":1.235},{"w":6122,"f":1.245},{"w":6127,"f":1.255},{"w":6132,"f":1.265},{"w":6137,"f":1.271},{"w":6143,"f":1.274},{"w":6150,"f":1.28},{"w":6156,"f":1.282},{"w":6162,"f":1.286},{"w":6167,"f":1.298},{"w":6172,"f":1.31},{"w":6177,"f":1.322},{"w":6182,"f":1.331},{"w":6187,"f":1.326},{"w":6192,"f":1.332},{"w":6197,"f":1.338},{"w":6201,"f":1.335},{"w":6203,"f":1.32},{"w":6205,"f":1.31},{"w":6209,"f":1.30},{"w":6214,"f":1.302},{"w":6220,"f":1.302},{"w":6227,"f":1.298},{"w":6234,"f":1.30},{"w":6240,"f":1.286},{"w":6247,"f":1.27},{"w":6253,"f":1.258},{"w":6260,"f":1.242},{"w":6265,"f":1.225},{"w":6270,"f":1.21},{"w":6275,"f":1.19},{"w":6280,"f":1.173},{"w":6285,"f":1.16},{"w":6290,"f":1.15},{"w":6295,"f":1.14},{"w":6299,"f":1.131},{"w":6304,"f":1.12},{"w":6308,"f":1.115},{"w":6312,"f":1.108},{"w":6317,"f":1.106},{"w":6322,"f":1.11},{"w":6327,"f":1.12},{"w":6332,"f":1.13},{"w":6338,"f":1.138},{"w":6344,"f":1.148},{"w":6350,"f":1.16},{"w":6357,"f":1.172},{"w":6365,"f":1.186},{"w":6371,"f":1.202},{"w":6378,"f":1.22},{"w":6384,"f":1.235},{"w":6391,"f":1.249},{"w":6400,"f":1.268},{"w":6410,"f":1.285},{"w":6420,"f":1.3},{"w":6430,"f":1.314},{"w":6440,"f":1.325},{"w":6450,"f":1.335},{"w":6460,"f":1.345},{"w":6469,"f":1.356},{"w":6477,"f":1.358},{"w":6485,"f":1.358},{"w":6494,"f":1.356},{"w":6502,"f":1.356},{"w":6508,"f":1.352},{"w":6515,"f":1.35},{"w":6521,"f":1.347},{"w":6527,"f":1.345},{"w":6537,"f":1.344},{"w":6547,"f":1.342},{"w":6553,"f":1.335},{"w":6560,"f":1.325},{"w":6566,"f":1.316},{"w":6573,"f":1.307},{"w":6580,"f":1.292},{"w":6587,"f":1.275},{"w":6593,"f":1.256},{"w":6600,"f":1.236},{"w":6606,"f":1.218},{"w":6612,"f":1.20},{"w":6618,"f":1.182},{"w":6625,"f":1.166},{"w":6631,"f":1.142},{"w":6638,"f":1.12},{"w":6644,"f":1.095},{"w":6651,"f":1.067},{"w":6658,"f":1.04},{"w":6665,"f":1.01},{"w":6671,"f":0.985},{"w":6678,"f":0.962},{"w":6683,"f":0.948},{"w":6688,"f":0.935},{"w":6693,"f":0.92},{"w":6698,"f":0.905},{"w":6703,"f":0.882},{"w":6708,"f":0.86},{"w":6712,"f":0.835},{"w":6717,"f":0.814},{"w":6723,"f":0.795},{"w":6730,"f":0.78},{"w":6736,"f":0.765},{"w":6743,"f":0.757},{"w":6749,"f":0.762},{"w":6755,"f":0.76},{"w":6760,"f":0.768},{"w":6766,"f":0.76},{"w":6771,"f":0.745},{"w":6776,"f":0.735},{"w":6781,"f":0.72},{"w":6786,"f":0.712},{"w":6791,"f":0.702},{"w":6797,"f":0.695},{"w":6803,"f":0.688},{"w":6808,"f":0.684},{"w":6813,"f":0.69},{"w":6818,"f":0.695},{"w":6824,"f":0.705},{"w":6830,"f":0.712},{"w":6834,"f":0.706},{"w":6838,"f":0.70},{"w":6842,"f":0.692},{"w":6846,"f":0.688},{"w":6853,"f":0.695},{"w":6860,"f":0.70},{"w":6868,"f":0.71},{"w":6876,"f":0.72},{"w":6881,"f":0.712},{"w":6886,"f":0.715},{"w":6891,"f":0.712},{"w":6896,"f":0.718},{"w":6901,"f":0.73},{"w":6905,"f":0.74},{"w":6909,"f":0.755},{"w":6913,"f":0.764},{"w":6917,"f":0.752},{"w":6921,"f":0.745},{"w":6925,"f":0.735},{"w":6929,"f":0.729},{"w":6933,"f":0.75},{"w":6937,"f":0.78},{"w":6941,"f":0.81},{"w":6945,"f":0.832},{"w":6950,"f":0.834},{"w":6956,"f":0.835},{"w":6962,"f":0.838},{"w":6968,"f":0.836},{"w":6974,"f":0.848},{"w":6980,"f":0.86},{"w":6986,"f":0.872},{"w":6993,"f":0.884},{"w":7001,"f":0.888},{"w":7010,"f":0.887},{"w":7018,"f":0.885},{"w":7026,"f":0.889},{"w":7031,"f":0.892},{"w":7036,"f":0.895},{"w":7041,"f":0.9},{"w":7046,"f":0.90},{"w":7050,"f":0.895},{"w":7053,"f":0.89},{"w":7059,"f":0.888},{"w":7062,"f":0.9},{"w":7065,"f":0.91},{"w":7068,"f":0.918},{"w":7071,"f":0.924},{"w":7078,"f":0.926},{"w":7085,"f":0.93},{"w":7090,"f":0.928},{"w":7095,"f":0.932},{"w":7100,"f":0.935},{"w":7104,"f":0.936},{"w":7107,"f":0.932},{"w":7110,"f":0.93},{"w":7115,"f":0.95},{"w":7120,"f":0.97},{"w":7125,"f":0.99},{"w":7130,"f":1.008},{"w":7136,"f":1.006},{"w":7143,"f":1.01},{"w":7150,"f":1.008},{"w":7156,"f":1.012},{"w":7163,"f":1.012},{"w":7170,"f":1.01},{"w":7176,"f":1.006},{"w":7182,"f":1.008},{"w":7186,"f":1.022},{"w":7190,"f":1.04},{"w":7194,"f":1.056},{"w":7198,"f":1.072},{"w":7201,"f":1.082},{"w":7204,"f":1.09},{"w":7208,"f":1.095},{"w":7211,"f":1.096},{"w":7216,"f":1.09},{"w":7222,"f":1.08},{"w":7228,"f":1.072},{"w":7235,"f":1.068},{"w":7242,"f":1.07},{"w":7250,"f":1.072},{"w":7258,"f":1.075},{"w":7266,"f":1.076},{"w":7276,"f":1.074},{"w":7286,"f":1.072},{"w":7295,"f":1.075},{"w":7305,"f":1.076},{"w":7315,"f":1.072},{"w":7325,"f":1.074},{"w":7333,"f":1.077},{"w":7340,"f":1.078},{"w":7346,"f":1.076},{"w":7352,"f":1.08},{"w":7360,"f":1.076},{"w":7368,"f":1.073},{"w":7374,"f":1.082},{"w":7380,"f":1.09},{"w":7384,"f":1.1},{"w":7387,"f":1.108},{"w":7393,"f":1.112},{"w":7400,"f":1.115},{"w":7407,"f":1.116},{"w":7415,"f":1.118},{"w":7420,"f":1.116},{"w":7425,"f":1.12},{"w":7429,"f":1.124},{"w":7432,"f":1.126},{"w":7436,"f":1.115},{"w":7440,"f":1.10},{"w":7445,"f":1.08},{"w":7452,"f":1.066},{"w":7457,"f":1.07},{"w":7462,"f":1.072},{"w":7467,"f":1.074},{"w":7471,"f":1.075},{"w":7478,"f":1.068},{"w":7485,"f":1.06},{"w":7491,"f":1.055},{"w":7498,"f":1.051},{"w":7504,"f":1.046},{"w":7511,"f":1.04},{"w":7517,"f":1.032},{"w":7524,"f":1.023},{"w":7530,"f":1.012},{"w":7537,"f":1.002},{"w":7546,"f":0.999},{"w":7555,"f":0.996},{"w":7565,"f":0.994},{"w":7576,"f":0.992},{"w":7583,"f":0.988},{"w":7590,"f":0.985},{"w":7596,"f":0.983},{"w":7602,"f":0.981},{"w":7607,"f":0.986},{"w":7612,"f":0.99},{"w":7617,"f":0.993},{"w":7621,"f":0.995},{"w":7628,"f":1.0},{"w":7635,"f":1.005},{"w":7641,"f":1.01},{"w":7647,"f":1.013},{"w":7653,"f":1.01},{"w":7660,"f":1.01},{"w":7667,"f":1.014},{"w":7674,"f":1.012},{"w":7682,"f":1.014},{"w":7690,"f":1.015},{"w":7698,"f":1.018},{"w":7705,"f":1.02},{"w":7709,"f":1.022},{"w":7713,"f":1.023},{"w":7719,"f":1.03},{"w":7725,"f":1.04},{"w":7730,"f":1.052},{"w":7735,"f":1.065},{"w":7740,"f":1.072},{"w":7745,"f":1.076},{"w":7748,"f":1.074},{"w":7752,"f":1.068},{"w":7755,"f":1.058},{"w":7758,"f":1.05},{"w":7763,"f":1.047},{"w":7768,"f":1.045},{"w":7773,"f":1.046},{"w":7778,"f":1.044},{"w":7783,"f":1.036},{"w":7788,"f":1.03},{"w":7792,"f":1.024},{"w":7797,"f":1.02},{"w":7802,"f":1.025},{"w":7807,"f":1.03},{"w":7812,"f":1.035},{"w":7817,"f":1.038},{"w":7820,"f":1.025},{"w":7823,"f":1.01},{"w":7826,"f":0.99},{"w":7830,"f":0.968},{"w":7835,"f":0.96},{"w":7840,"f":0.955},{"w":7845,"f":0.952},{"w":7850,"f":0.947},{"w":7856,"f":0.932},{"w":7862,"f":0.918},{"w":7867,"f":0.915},{"w":7872,"f":0.91},{"w":7877,"f":0.9},{"w":7882,"f":0.89},{"w":7885,"f":0.87},{"w":7887,"f":0.85},{"w":7890,"f":0.83},{"w":7892,"f":0.82},{"w":7895,"f":0.825},{"w":7898,"f":0.84},{"w":7902,"f":0.875},{"w":7905,"f":0.90},{"w":7908,"f":0.905},{"w":7911,"f":0.904},{"w":7915,"f":0.88},{"w":7918,"f":0.85},{"w":7922,"f":0.825},{"w":7925,"f":0.80},{"w":7930,"f":0.788},{"w":7934,"f":0.776},{"w":7940,"f":0.75},{"w":7945,"f":0.73},{"w":7949,"f":0.716},{"w":7953,"f":0.706},{"w":7959,"f":0.7},{"w":7965,"f":0.695},{"w":7972,"f":0.692},{"w":7979,"f":0.685},{"w":7982,"f":0.675},{"w":7985,"f":0.665},{"w":7987,"f":0.652},{"w":7989,"f":0.644},{"w":7992,"f":0.642},{"w":7995,"f":0.648},{"w":7997,"f":0.655},{"w":7999,"f":0.665},{"w":8001,"f":0.69},{"w":8004,"f":0.728}
    ]
  },
  "resolve": {"axis": {"x": "independent", "y": "independent"}},
  "layer": [
    {
      "data": {"name": "bands"},
      "mark": {"type": "rect"},
      "encoding": {
        "x": {"field": "x0", "type": "quantitative",
          "scale": {"domain": [3651, 8004.5], "nice": false, "zero": false},
          "axis": {
            "orient": "bottom", "title": "Rest Wavelength [Å]",
            "values": [3700,3800,3900,4000,4100,4200,4300,4400,4500,4600,4700,4800,4900,5000,5100,5200,5300,5400,5500,5600,5700,5800,5900,6000,6100,6200,6300,6400,6500,6600,6700,6800,6900,7000,7100,7200,7300,7400,7500,7600,7700,7800,7900,8000],
            "format": "d",
            "labelExpr": "datum.value % 500 === 0 ? datum.label : ''",
            "tickSize": {"condition": {"test": "datum.value % 500 === 0", "value": -29}, "value": -16},
            "tickWidth": {"condition": {"test": "datum.value % 500 === 0", "value": 4}, "value": 2.5},
            "labelPadding": 43, "titlePadding": 11
          }
        },
        "x2": {"field": "x1"},
        "fill": {"field": "kind", "type": "nominal", "scale": {"domain": ["range", "line"], "range": ["#d3d3d3", "#ffd8de"]}, "legend": null}
      }
    },
    {
      "data": {"name": "sn05gj"},
      "mark": {"type": "line", "strokeWidth": 6, "clip": true},
      "encoding": {
        "x": {"field": "w", "type": "quantitative",
          "scale": {"domain": [3651, 8004.5], "nice": false, "zero": false},
          "axis": {
            "orient": "top", "title": null, "labels": false,
            "values": [3700,3800,3900,4000,4100,4200,4300,4400,4500,4600,4700,4800,4900,5000,5100,5200,5300,5400,5500,5600,5700,5800,5900,6000,6100,6200,6300,6400,6500,6600,6700,6800,6900,7000,7100,7200,7300,7400,7500,7600,7700,7800,7900,8000],
            "tickSize": {"condition": {"test": "datum.value % 500 === 0", "value": -29}, "value": -16},
            "tickWidth": {"condition": {"test": "datum.value % 500 === 0", "value": 4}, "value": 2.5}
          }
        },
        "y": {"field": "f", "type": "quantitative",
          "scale": {"domain": [0.6, 2.4], "nice": false, "zero": false},
          "axis": {
            "orient": "left", "title": "log(Fλ) + const.",
            "values": [0.6,0.65,0.7,0.75,0.8,0.85,0.9,0.95,1.0,1.05,1.1,1.15,1.2,1.25,1.3,1.35,1.4,1.45,1.5,1.55,1.6,1.65,1.7,1.75,1.8,1.85,1.9,1.95,2.0,2.05,2.1,2.15,2.2,2.25,2.3,2.35,2.4],
            "labelExpr": "abs(datum.value * 5 - round(datum.value * 5)) < 0.001 ? format(datum.value, '.1f') : ''",
            "tickSize": {"condition": {"test": "abs(datum.value * 5 - round(datum.value * 5)) < 0.001", "value": -29}, "value": -16},
            "tickWidth": {"condition": {"test": "abs(datum.value * 5 - round(datum.value * 5)) < 0.001", "value": 4}, "value": 2.5},
            "labelPadding": 48, "titlePadding": 22
          }
        },
        "color": {"datum": "SN2005gj (Ia-CSM) + 97 days", "type": "nominal",
          "scale": {"domain": ["SN2005gj (Ia-CSM) + 97 days", "SN1991T (Ia) + 98 days"], "range": ["#1f77b4", "#ff7f0e"]}}
      }
    },
    {
      "data": {"name": "sn91t"},
      "mark": {"type": "line", "strokeWidth": 6, "clip": true},
      "encoding": {
        "x": {"field": "w", "type": "quantitative", "scale": {"domain": [3651, 8004.5], "nice": false, "zero": false}, "axis": null},
        "y": {"field": "f", "type": "quantitative", "scale": {"domain": [0.6, 2.4], "nice": false, "zero": false}, "axis": null},
        "color": {"datum": "SN1991T (Ia) + 98 days", "type": "nominal",
          "scale": {"domain": ["SN2005gj (Ia-CSM) + 97 days", "SN1991T (Ia) + 98 days"], "range": ["#1f77b4", "#ff7f0e"]}}
      }
    },
    {
      "data": {"name": "labels"},
      "mark": {"type": "text", "align": "left", "baseline": "alphabetic", "fontSize": 95, "font": "DejaVu Sans", "color": "#fc978b"},
      "encoding": {
        "x": {"field": "w", "type": "quantitative", "scale": {"domain": [3651, 8004.5], "nice": false, "zero": false}, "axis": null},
        "y": {"field": "f", "type": "quantitative",
          "scale": {"domain": [0.6, 2.4], "nice": false, "zero": false},
          "axis": {
            "orient": "right", "title": null, "labels": false,
            "values": [0.6,0.65,0.7,0.75,0.8,0.85,0.9,0.95,1.0,1.05,1.1,1.15,1.2,1.25,1.3,1.35,1.4,1.45,1.5,1.55,1.6,1.65,1.7,1.75,1.8,1.85,1.9,1.95,2.0,2.05,2.1,2.15,2.2,2.25,2.3,2.35,2.4],
            "tickSize": {"condition": {"test": "abs(datum.value * 5 - round(datum.value * 5)) < 0.001", "value": -29}, "value": -16},
            "tickWidth": {"condition": {"test": "abs(datum.value * 5 - round(datum.value * 5)) < 0.001", "value": 4}, "value": 2.5}
          }
        },
        "text": {"field": "t"}
      }
    }
  ]
}
